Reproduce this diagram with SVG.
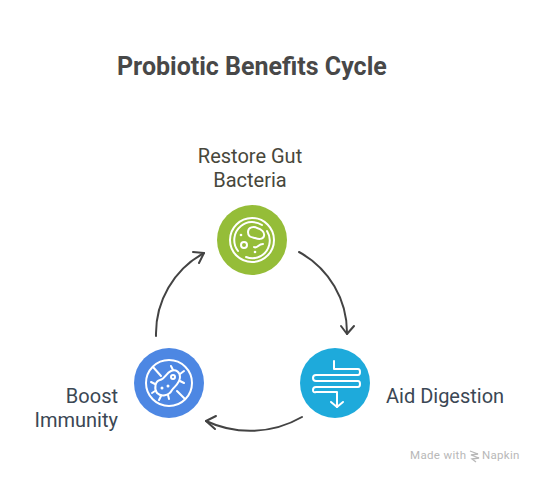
<svg xmlns="http://www.w3.org/2000/svg" width="540" height="481" viewBox="0 0 540 481">
<style>
text{font-family:Roboto,"Liberation Sans",sans-serif}
.t{font-size:25px;font-weight:700;fill:#484848}
.l{font-size:20px}
.i{fill:none;stroke:#fff;stroke-width:2;stroke-linecap:round;stroke-linejoin:round}
.c{fill:none;stroke:#434343;stroke-width:2;stroke-linecap:round;stroke-linejoin:round}
.f{fill:#fff}
</style>
<rect width="540" height="481" fill="#fff"/>
<text class="t" x="117" y="75">Probiotic Benefits Cycle</text>
<g id="connectors">
<path class="c" d="M299 252A92 92 0 0 1 347 334"/>
<path class="c" d="M341 326L347 334L354 326"/>
<path class="c" d="M302 417A104 104 0 0 1 206 421"/>
<path class="c" d="M216 416L206 421L215 429"/>
<path class="c" d="M156 336A92 92 0 0 1 204 253"/>
<path class="c" d="M193 252L204 253L199 263"/>
</g>
<g id="node-restore">
<circle cx="252" cy="240" r="35" fill="#95bd38"/>
<circle class="i" cx="252" cy="240" r="22"/>
<path class="i" d="M238 251A18 18 0 0 1 241 226A18 18 0 0 1 262 225M267 231A18 18 0 0 1 261 256A18 18 0 0 1 246 257"/>
<path class="i" d="M248 232C248 227 254 226 257 228C261 229 265 232 264 236C263 240 258 239 255 238C251 237 248 237 248 232Z"/>
<circle class="i" cx="244" cy="245" r="3"/>
<path class="i" d="M254 247C257 249 258 244 263 244"/>
<circle class="f" cx="241" cy="235" r="1.3"/>
<circle class="f" cx="255" cy="252" r="1.3"/>
<text class="l" x="250" y="163" text-anchor="middle" fill="#47473b">Restore Gut</text>
<text class="l" x="250" y="187" text-anchor="middle" fill="#47473b">Bacteria</text>
</g>
<g id="node-digestion">
<circle cx="335" cy="383" r="35" fill="#1eaadb"/>
<path class="i" d="M334 361V369H358Q360 369 360 372T358 375H316Q313 375 313 378T316 381H358Q360 381 360 384T358 387H316Q313 387 313 390T316 392H337V407"/>
<path class="i" d="M331 402L337 407L343 402"/>
<text class="l" x="386" y="403" fill="#3b4754">Aid Digestion</text>
</g>
<g id="node-immunity">
<circle cx="169" cy="383" r="35" fill="#4d87e3"/>
<circle class="i" cx="169" cy="383" r="23"/>
<path class="i" d="M153 367L161 376M177 391L185 399"/>
<path class="i" d="M160 380C165 379 166 373 171 371C176 369 180 372 180 377C180 383 175 386 172 390C169 396 161 397 157 393C154 389 155 381 160 380Z"/>
<path class="i" d="M173 370L171 366M180 374L184 371M180 381L184 383M161 396L159 400M155 391L152 393M155 384L151 382M168 395L169 399"/>
<circle class="i" cx="173" cy="377" r="2"/>
<circle class="f" cx="162" cy="388" r="1.5"/>
<circle class="f" cx="168" cy="386" r="1.5"/>
<text class="l" x="118" y="403" text-anchor="end" fill="#3b4754">Boost</text>
<text class="l" x="118" y="427" text-anchor="end" fill="#3b4754">Immunity</text>
</g>
<text x="410" y="459" font-size="11.5" letter-spacing=".35" fill="#b8b8b8">Made with</text>
<path d="M470 451L478 454L471 455L479 458L472 459L476 462" fill="none" stroke="#b8b8b8" stroke-width="1.3"/>
<text x="482" y="459" font-size="11.5" letter-spacing=".3" fill="#b8b8b8">Napkin</text>
</svg>
